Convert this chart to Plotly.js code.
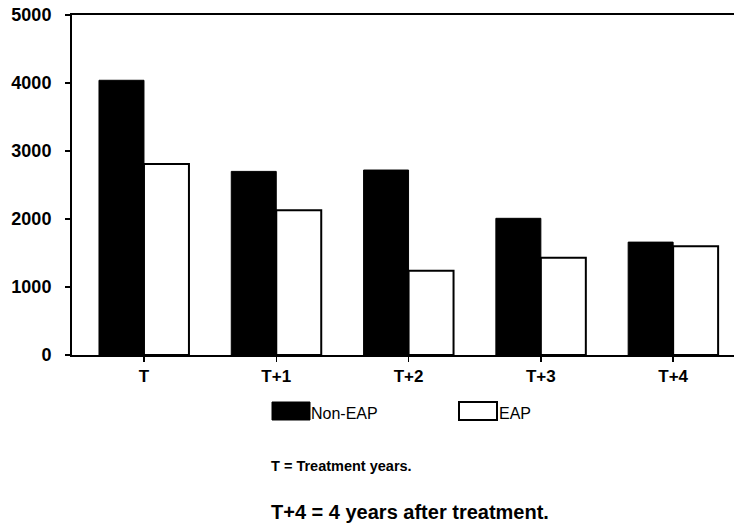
<!DOCTYPE html>
<html>
<head>
<meta charset="utf-8">
<script src="https://cdn.plot.ly/plotly-3.0.1.min.js"></script>
<style>html,body{margin:0;padding:0;background:#fff;}#chart{width:734px;height:526px;}</style>
</head>
<body>
<div id="chart"></div>
<script>
const categories = ["T", "T+1", "T+2", "T+3", "T+4"];
const seriesNames = ["Non-EAP", "EAP"];
const nonEAP = [4040, 2700, 2720, 2010, 1660];
const eap = [2810, 2130, 1240, 1430, 1600];
const yTickValues = [0, 1000, 2000, 3000, 4000, 5000];
const notes = ["T = Treatment years.", "T+4 = 4 years after treatment."];

const W = 734, H = 526;
const M = {l: 72, r: 0, t: 15, b: 171};
const pw = W - M.l - M.r, ph = H - M.t - M.b;
const px = x => (x - M.l) / pw;
const py = y => (H - M.b - y) / ph;

const font = "Liberation Sans, Arial, sans-serif";

const traces = [
  {type: "bar", name: seriesNames[0], x: categories, y: nonEAP,
   marker: {color: "#000", line: {color: "#000", width: 1}}, showlegend: false},
  {type: "bar", name: seriesNames[1], x: categories, y: eap,
   marker: {color: "#fff", line: {color: "#000", width: 2}}, showlegend: false}
];

const layout = {
  width: W, height: H,
  margin: M,
  paper_bgcolor: "#fff", plot_bgcolor: "#fff",
  barmode: "group", bargap: 0.32, bargroupgap: 0,
  showlegend: false,
  xaxis: {
    type: "category", range: [-0.544, 4.46],
    showline: true, linecolor: "#000", linewidth: 2, mirror: true,
    ticks: "outside", ticklen: 5, tickwidth: 1.5, tickcolor: "#000",
    showgrid: false, zeroline: false,
    tickfont: {family: font, size: 17, color: "#000", weight: "bold"}
  },
  yaxis: {
    range: [0, 5000], tickvals: yTickValues,
    showline: true, linecolor: "#000", linewidth: 2, mirror: false,
    ticks: "outside", ticklen: 5, tickwidth: 1.5, tickcolor: "#000",
    showgrid: false, zeroline: false, ticklabelstandoff: 10,
    tickfont: {family: font, size: 18, color: "#000", weight: "bold"}
  },
  shapes: [
    {type: "rect", xref: "paper", yref: "paper", x0: px(272), x1: px(310), y0: py(420), y1: py(402),
     fillcolor: "#000", line: {color: "#000", width: 1}},
    {type: "rect", xref: "paper", yref: "paper", x0: px(459), x1: px(497), y0: py(420), y1: py(402),
     fillcolor: "#fff", line: {color: "#000", width: 2}}
  ],
  annotations: [
    {xref: "paper", yref: "paper", x: px(309), y: py(413), xanchor: "left", yanchor: "middle",
     text: seriesNames[0], showarrow: false, font: {family: font, size: 16, color: "#000"}},
    {xref: "paper", yref: "paper", x: px(497), y: py(413), xanchor: "left", yanchor: "middle",
     text: seriesNames[1], showarrow: false, font: {family: font, size: 16, color: "#000"}},
    {xref: "paper", yref: "paper", x: px(269), y: py(466), xanchor: "left", yanchor: "middle",
     text: notes[0], showarrow: false, font: {family: font, size: 14.5, color: "#000", weight: "bold"}},
    {xref: "paper", yref: "paper", x: px(269), y: py(512), xanchor: "left", yanchor: "middle",
     text: notes[1], showarrow: false, font: {family: font, size: 20, color: "#000", weight: "bold"}}
  ]
};

Plotly.newPlot("chart", traces, layout, {displayModeBar: false, staticPlot: true});
</script>
</body>
</html>
